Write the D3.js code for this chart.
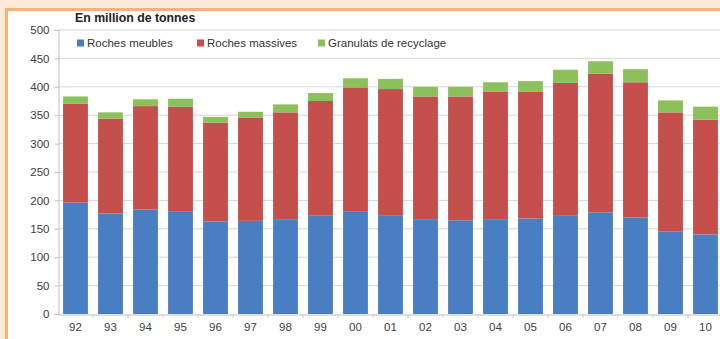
<!DOCTYPE html>
<html>
<head>
<meta charset="utf-8">
<script src="https://cdn.jsdelivr.net/npm/d3@7"></script>
<style>
  html, body { margin: 0; padding: 0; background: #fce9d8; }
  svg { display: block; font-family: "Liberation Sans", Arial, sans-serif; }
</style>
</head>
<body>
<svg id="chart" width="720" height="339"></svg>
<script>
// Production de granulats en France, 1992-2010 (en millions de tonnes)
const years = ["92","93","94","95","96","97","98","99","00","01","02","03","04","05","06","07","08","09","10"];
const rochesMeubles   = [196,177,184,181,163,164,167,173,181,174,167,165,167,168,174,179,170,145,140];
const rochesMassives  = [174,167,182,184,174,182,188,202,218,222,216,218,224,223,233,244,238,210,202];
const granulatsRecycl = [13,11,12,14,10,10,14,14,16,18,17,17,17,19,23,22,23,21,23];
const seriesNames  = ["Roches meubles", "Roches massives", "Granulats de recyclage"];
const seriesColors = ["#4a7ec2", "#c44f4d", "#8cc05a"];
const yTicks = [0,50,100,150,200,250,300,350,400,450,500];

const svg = d3.select("#chart");

// Cadre du graphique : fond blanc bordé d'orange
svg.append("rect").attr("x", 0).attr("y", 0).attr("width", 720).attr("height", 339).attr("fill", "#fce9d8");
svg.append("rect").attr("x", 6.5).attr("y", 9.5).attr("width", 730).attr("height", 340)
  .attr("fill", "#ffffff").attr("stroke", "#f8b07c").attr("stroke-width", 3);

const x = d3.scaleBand().domain(years).range([58, 723]).paddingInner(0.29).paddingOuter(0.145);
const y = d3.scaleLinear().domain([0, 500]).range([314, 30]);

// Quadrillage horizontal
svg.append("g").selectAll("line").data(yTicks.filter(t => t > 0)).join("line")
  .attr("x1", 58).attr("x2", 720)
  .attr("y1", d => y(d)).attr("y2", d => y(d))
  .attr("stroke", "#d6d6d6").attr("stroke-width", 1);

// Empilement des trois séries
const rows = years.map((yr, i) => ({
  year: yr,
  meubles: rochesMeubles[i],
  massives: rochesMassives[i],
  recyclage: granulatsRecycl[i]
}));
const stack = d3.stack().keys(["meubles", "massives", "recyclage"]);
const layers = stack(rows);

svg.append("g").selectAll("g").data(layers).join("g")
  .attr("fill", (d, i) => seriesColors[i])
  .selectAll("rect").data(d => d).join("rect")
  .attr("x", d => x(d.data.year))
  .attr("width", x.bandwidth())
  .attr("y", d => y(d[1]))
  .attr("height", d => y(d[0]) - y(d[1]));

// Axe vertical
const yAxis = d3.axisLeft(y).tickValues(yTicks).tickSize(4).tickPadding(5);
const gy = svg.append("g").attr("transform", "translate(58.5,0)").call(yAxis);
gy.select(".domain").attr("stroke", "#bfbfbf");
gy.selectAll(".tick line").attr("stroke", "#bfbfbf");
gy.selectAll(".tick text").attr("fill", "#404040").attr("font-size", 11.5);

// Axe horizontal
const xAxis = d3.axisBottom(x).tickSize(0).tickPadding(8);
const gx = svg.append("g").attr("transform", "translate(0,314.5)").call(xAxis);
gx.select(".domain").attr("stroke", "#bfbfbf");
gx.selectAll(".tick text").attr("fill", "#404040").attr("font-size", 11.5);
// Graduations entre les catégories
svg.append("g").selectAll("line").data(years.slice(1)).join("line")
  .attr("x1", d => x(d) - x.step() * x.paddingInner() / 2)
  .attr("x2", d => x(d) - x.step() * x.paddingInner() / 2)
  .attr("y1", 314).attr("y2", 318)
  .attr("stroke", "#d0d0d0");

// Unité
svg.append("text").attr("x", 75).attr("y", 22)
  .attr("font-size", 12.3).attr("font-weight", "bold").attr("fill", "#222")
  .text("En million de tonnes");

// Légende
const legendX = [77, 197, 318];
const lg = svg.append("g").selectAll("g").data(seriesNames).join("g")
  .attr("transform", (d, i) => `translate(${legendX[i]},43)`);
lg.append("rect").attr("x", 0).attr("y", -3.5).attr("width", 7).attr("height", 7)
  .attr("fill", (d, i) => seriesColors[i]);
lg.append("text").attr("x", 10).attr("y", 4)
  .attr("font-size", 11.5).attr("fill", "#333").text(d => d);
</script>
</body>
</html>
